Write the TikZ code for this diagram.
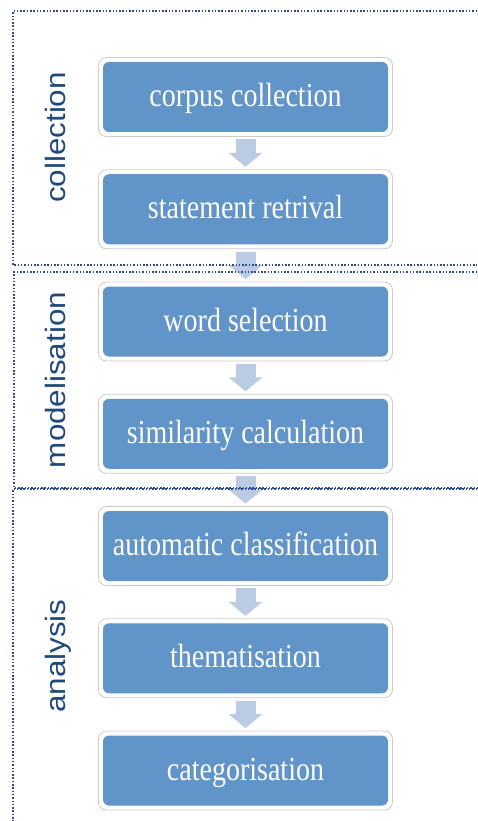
\documentclass[tikz,border=0pt]{standalone}
\usepackage{fontspec}
\usetikzlibrary{arrows.meta}
\newfontfamily\boxfont{Liberation Serif}
\newfontfamily\labfont{Liberation Sans}
\definecolor{stepblue}{HTML}{6194C8}
\definecolor{framegray}{HTML}{CBCBCB}
\definecolor{arrowblue}{HTML}{BACBE3}
\definecolor{labblue}{HTML}{1F497D}
\definecolor{sectblue}{HTML}{2B4C8C}
\tikzset{
  stepbox/.style={fill=stepblue, rounded corners=6pt, minimum width=285pt, minimum height=70pt, inner sep=0pt, text=white,
    text height=24pt, text depth=4.6pt, font=\boxfont\fontsize{28}{30}\selectfont},
  stepframe/.style={fill=white, draw=framegray, line width=0.8pt, rounded corners=8pt, minimum width=294pt, minimum height=79pt, inner sep=0pt},
  flowarrow/.style={draw=arrowblue, line width=20pt, shorten <=2.5pt, shorten >=2.5pt,
    -{Triangle[width=33pt,length=14pt,color=arrowblue]}},
  sectline/.style={draw=sectblue, line width=1.5pt, dash pattern=on 1.5pt off 1.8pt},
  sectlabel/.style={text=labblue, rotate=90, anchor=base, inner sep=0pt, font=\labfont\fontsize{28}{30}\selectfont}
}
\newcommand{\stxt}[1]{\scalebox{1}[1.2]{#1}}
\newcommand{\ltxt}[1]{\scalebox{1.12}[1]{#1}}
\begin{document}
\begin{tikzpicture}[x=1pt,y=-1pt]
\useasboundingbox (0,0) rectangle (477,821);
% frames
\foreach \i/\y in {1/97,2/209.25,3/321.5,4/433.75,5/546,6/658.25,7/770.5}{
  \node[stepframe] (f\i) at (245.5,\y) {};
}
% arrows
\foreach \i/\j in {1/2,2/3,3/4,4/5,5/6,6/7}{
  \draw[flowarrow] (f\i.south) -- (f\j.north);
}
% steps
\node[stepbox] (b1) at (f1) {\stxt{corpus collection}};
\node[stepbox] (b2) at (f2) {\stxt{statement retrival}};
\node[stepbox] (b3) at (f3) {\stxt{word selection}};
\node[stepbox] (b4) at (f4) {\stxt{similarity calculation}};
\node[stepbox] (b5) at (f5) {\stxt{automatic classification}};
\node[stepbox] (b6) at (f6) {\stxt{thematisation}};
\node[stepbox] (b7) at (f7) {\stxt{categorisation}};
% sections
\coordinate (s1a) at (477,11); \coordinate (s1b) at (13,11); \coordinate (s1c) at (13,265); \coordinate (s1d) at (477,265);
\coordinate (s2a) at (477,272); \coordinate (s2b) at (14,272); \coordinate (s2c) at (14,488); \coordinate (s2d) at (477,488);
\coordinate (s3a) at (477,489); \coordinate (s3b) at (13,489); \coordinate (s3c) at (13,821);
\draw[sectline] (s1a) -- (s1b) -- (s1c) -- (s1d);
\draw[sectline] (s2a) -- (s2b) -- (s2c) -- (s2d);
\draw[sectline] (s3a) -- (s3b) -- (s3c);
% labels
\node[sectlabel] (l1) at (65,137.5) {\ltxt{collection}};
\node[sectlabel] (l2) at (65,380) {\ltxt{modelisation}};
\node[sectlabel] (l3) at (65,656) {\ltxt{analysis}};
\end{tikzpicture}
\end{document}
